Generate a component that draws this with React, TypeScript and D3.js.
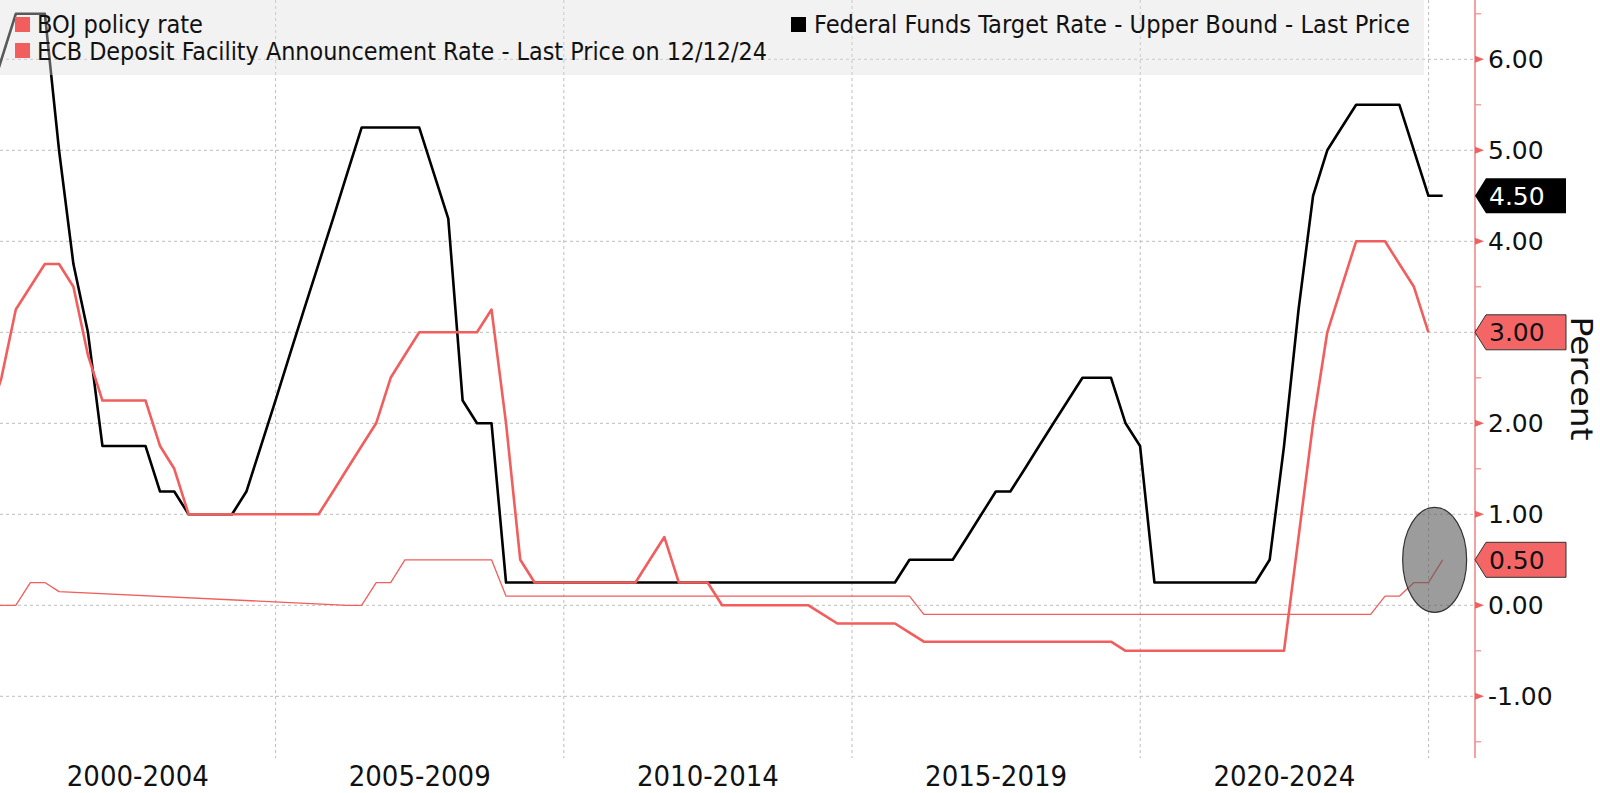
import React from 'react';
import * as d3 from 'd3';

// ---------- DATA (quarter-end observations, first = Q4 1999) ----------
const firstQuarterYear = 1999;
const firstQuarterMonth = 12; // end of December 1999

// Federal Funds Target Rate - Upper Bound
const fedUpper: number[] = [
  5.5,
  6.0, 6.5, 6.5, 6.5,       // 2000
  5.0, 3.75, 3.0, 1.75,     // 2001
  1.75, 1.75, 1.75, 1.25,   // 2002
  1.25, 1.0, 1.0, 1.0,      // 2003
  1.0, 1.25, 1.75, 2.25,    // 2004
  2.75, 3.25, 3.75, 4.25,   // 2005
  4.75, 5.25, 5.25, 5.25,   // 2006
  5.25, 5.25, 4.75, 4.25,   // 2007
  2.25, 2.0, 2.0, 0.25,     // 2008
  0.25, 0.25, 0.25, 0.25,   // 2009
  0.25, 0.25, 0.25, 0.25,   // 2010
  0.25, 0.25, 0.25, 0.25,   // 2011
  0.25, 0.25, 0.25, 0.25,   // 2012
  0.25, 0.25, 0.25, 0.25,   // 2013
  0.25, 0.25, 0.25, 0.25,   // 2014
  0.25, 0.25, 0.25, 0.5,    // 2015
  0.5, 0.5, 0.5, 0.75,      // 2016
  1.0, 1.25, 1.25, 1.5,     // 2017
  1.75, 2.0, 2.25, 2.5,     // 2018
  2.5, 2.5, 2.0, 1.75,      // 2019
  0.25, 0.25, 0.25, 0.25,   // 2020
  0.25, 0.25, 0.25, 0.25,   // 2021
  0.5, 1.75, 3.25, 4.5,     // 2022
  5.0, 5.25, 5.5, 5.5,      // 2023
  5.5, 5.5, 5.0, 4.5,       // 2024
  4.5,                      // 2025 Q1
];

// ECB Deposit Facility Announcement Rate (last price 12/12/24)
const ecbDeposit: number[] = [
  2.0,
  2.5, 3.25, 3.5, 3.75,     // 2000
  3.75, 3.5, 2.75, 2.25,    // 2001
  2.25, 2.25, 2.25, 1.75,   // 2002
  1.5, 1.0, 1.0, 1.0,       // 2003
  1.0, 1.0, 1.0, 1.0,       // 2004
  1.0, 1.0, 1.0, 1.25,      // 2005
  1.5, 1.75, 2.0, 2.5,      // 2006
  2.75, 3.0, 3.0, 3.0,      // 2007
  3.0, 3.0, 3.25, 2.0,      // 2008
  0.5, 0.25, 0.25, 0.25,    // 2009
  0.25, 0.25, 0.25, 0.25,   // 2010
  0.25, 0.5, 0.75, 0.25,    // 2011
  0.25, 0.25, 0.0, 0.0,     // 2012
  0.0, 0.0, 0.0, 0.0,       // 2013
  0.0, -0.1, -0.2, -0.2,    // 2014
  -0.2, -0.2, -0.2, -0.3,   // 2015
  -0.4, -0.4, -0.4, -0.4,   // 2016
  -0.4, -0.4, -0.4, -0.4,   // 2017
  -0.4, -0.4, -0.4, -0.4,   // 2018
  -0.4, -0.4, -0.5, -0.5,   // 2019
  -0.5, -0.5, -0.5, -0.5,   // 2020
  -0.5, -0.5, -0.5, -0.5,   // 2021
  -0.5, -0.5, 0.75, 2.0,    // 2022
  3.0, 3.5, 4.0, 4.0,       // 2023
  4.0, 3.75, 3.5, 3.0,      // 2024
];

// BOJ policy rate (no target during 2001-2006 quantitative easing)
const bojRate: (number | null)[] = [
  0.0,
  0.0, 0.0, 0.25, 0.25,     // 2000
  0.15, null, null, null,   // 2001
  null, null, null, null,   // 2002
  null, null, null, null,   // 2003
  null, null, null, null,   // 2004
  null, null, null, null,   // 2005
  0.0, 0.0, 0.25, 0.25,     // 2006
  0.5, 0.5, 0.5, 0.5,       // 2007
  0.5, 0.5, 0.5, 0.1,       // 2008
  0.1, 0.1, 0.1, 0.1,       // 2009
  0.1, 0.1, 0.1, 0.1,       // 2010
  0.1, 0.1, 0.1, 0.1,       // 2011
  0.1, 0.1, 0.1, 0.1,       // 2012
  0.1, 0.1, 0.1, 0.1,       // 2013
  0.1, 0.1, 0.1, 0.1,       // 2014
  0.1, 0.1, 0.1, 0.1,       // 2015
  -0.1, -0.1, -0.1, -0.1,   // 2016
  -0.1, -0.1, -0.1, -0.1,   // 2017
  -0.1, -0.1, -0.1, -0.1,   // 2018
  -0.1, -0.1, -0.1, -0.1,   // 2019
  -0.1, -0.1, -0.1, -0.1,   // 2020
  -0.1, -0.1, -0.1, -0.1,   // 2021
  -0.1, -0.1, -0.1, -0.1,   // 2022
  -0.1, -0.1, -0.1, -0.1,   // 2023
  0.1, 0.1, 0.25, 0.25,     // 2024
  0.5,                      // 2025 Q1
];

const yTickValues = [-1, 0, 1, 2, 3, 4, 5, 6];
const yMinorValues = [-1.5, -0.5, 0.5, 1.5, 2.5, 3.5, 4.5, 5.5, 6.5];
const periodLabels = ['2000-2004', '2005-2009', '2010-2014', '2015-2019', '2020-2024'];
const periodStarts = [2000, 2005, 2010, 2015, 2020];
const gridYears = [2005, 2010, 2015, 2020, 2025];

const legendLeft = ['BOJ policy rate', 'ECB Deposit Facility Announcement Rate - Last Price on 12/12/24'];
const legendRight = 'Federal Funds Target Rate - Upper Bound - Last Price';
const axisTitle = 'Percent';

// ---------- STYLE ----------
const RED = '#f25d5d';
const FLAG_RED = '#f46666';
const GRID = '#bdbdbd';
const AXIS_RED = '#f08a8a';
const CONDENSED = "'DejaVu Sans Condensed', 'DejaVu Sans', sans-serif";
const SANS = "'DejaVu Sans', sans-serif";

type Pt = { d: Date; v: number };

function toPoints(vals: (number | null)[]): Pt[] {
  return vals
    .map((v, i) => ({ d: new Date(firstQuarterYear, firstQuarterMonth + 3 * i, 0), v }))
    .filter((p): p is Pt => p.v !== null && p.v !== undefined);
}

const fmt2 = d3.format('.2f');
const fmt = (v: number) => fmt2(v).replace('\u2212', '-');

export default function App() {
  const W = 1600;
  const H = 793;
  const plotRight = 1475;
  const plotBottom = 758;

  const x = d3
    .scaleTime()
    .domain([new Date(2000, 0, 1), new Date(2025, 0, 1)])
    .range([-12.76, 1428.6]);
  const y = d3.scaleLinear().domain([-1, 6]).range([696.3, 59.3]);

  const line = d3
    .line<Pt>()
    .x((p) => x(p.d))
    .y((p) => y(p.v));

  const fedPts = toPoints(fedUpper);
  const ecbPts = toPoints(ecbDeposit);
  const bojPts = toPoints(bojRate);

  const flag = (val: number, fill: string, textFill: string, stroke: string | null, key: string) => {
    const yc = y(val);
    const h = 17.5;
    const d = `M${plotRight},${yc} L${plotRight + 11},${yc - h} L1566,${yc - h} L1566,${yc + h} L${plotRight + 11},${yc + h} Z`;
    return (
      <g key={key}>
        <path d={d} fill={fill} stroke={stroke || 'none'} strokeWidth={1} />
        <text x={1489} y={yc + 9} fontFamily={SANS} fontSize={25} fill={textFill}>
          {fmt(val)}
        </text>
      </g>
    );
  };

  const lastFed = fedPts[fedPts.length - 1];
  const lastEcb = ecbPts[ecbPts.length - 1];
  const lastBoj = bojPts[bojPts.length - 1];

  return (
    <svg
      width={W}
      height={H}
      viewBox={`0 0 ${W} ${H}`}
      style={{ position: 'absolute', left: 0, top: 0, display: 'block', background: '#ffffff' }}
    >
      <defs>
        <clipPath id="plotClip">
          <rect x={0} y={0} width={plotRight} height={plotBottom} />
        </clipPath>
      </defs>
      <rect x={0} y={0} width={W} height={H} fill="#ffffff" />

      {/* horizontal gridlines */}
      {yTickValues.map((t) => (
        <line
          key={'hg' + t}
          x1={0}
          x2={plotRight}
          y1={y(t)}
          y2={y(t)}
          stroke={GRID}
          strokeWidth={1}
          strokeDasharray="3 3"
        />
      ))}
      {/* vertical gridlines */}
      {gridYears.map((yr) => (
        <line
          key={'vg' + yr}
          x1={x(new Date(yr, 0, 1))}
          x2={x(new Date(yr, 0, 1))}
          y1={0}
          y2={plotBottom}
          stroke={GRID}
          strokeWidth={1}
          strokeDasharray="3 3"
        />
      ))}

      <g clipPath="url(#plotClip)">
        <path d={line(bojPts) || ''} fill="none" stroke={RED} strokeWidth={1.3} strokeLinejoin="round" />
        <path d={line(fedPts) || ''} fill="none" stroke="#000000" strokeWidth={2.6} strokeLinejoin="round" />
        <path d={line(ecbPts) || ''} fill="none" stroke={RED} strokeWidth={2.6} strokeLinejoin="round" />
      </g>

      {/* legend */}
      <rect x={0} y={0} width={1424} height={75} fill="#dedede" opacity={0.4} />
      <rect x={15} y={17} width={15} height={15} fill={RED} />
      <text x={37} y={33} fontFamily={CONDENSED} fontStretch="condensed" fontSize={24} fill="#111" textLength={166} lengthAdjust="spacingAndGlyphs">
        {legendLeft[0]}
      </text>
      <rect x={15} y={43} width={15} height={15} fill={RED} />
      <text x={37} y={60} fontFamily={CONDENSED} fontStretch="condensed" fontSize={24} fill="#111" textLength={730} lengthAdjust="spacingAndGlyphs">
        {legendLeft[1]}
      </text>
      <rect x={791} y={17} width={15} height={15} fill="#000" />
      <text x={814} y={33} fontFamily={CONDENSED} fontStretch="condensed" fontSize={24} fill="#111" textLength={596} lengthAdjust="spacingAndGlyphs">
        {legendRight}
      </text>

      {/* highlight ellipse */}
      <ellipse cx={x(lastBoj.d) - 8} cy={y(lastBoj.v)} rx={32} ry={52.5} fill="#5a5a5a" fillOpacity={0.6} stroke="#333" strokeWidth={1.2} />

      {/* right axis */}
      <line x1={plotRight} x2={plotRight} y1={0} y2={plotBottom} stroke={AXIS_RED} strokeWidth={1.6} />
      {yMinorValues.map((t) => (
        <line key={'mt' + t} x1={plotRight} x2={plotRight + 6} y1={y(t)} y2={y(t)} stroke={AXIS_RED} strokeWidth={1.2} />
      ))}
      {yTickValues.map((t) => (
        <g key={'yt' + t}>
          <path d={`M${plotRight},${y(t) - 3.5} L${plotRight + 9},${y(t)} L${plotRight},${y(t) + 3.5} Z`} fill="#f06060" />
          <text x={1488} y={y(t) + 9} fontFamily={SANS} fontSize={25} fill="#111">
            {fmt(t)}
          </text>
        </g>
      ))}

      {flag(lastFed.v, '#000000', '#ffffff', null, 'ffed')}
      {flag(lastEcb.v, FLAG_RED, '#111', '#333', 'fecb')}
      {flag(lastBoj.v, FLAG_RED, '#111', '#333', 'fboj')}

      <text
        transform="translate(1571,378.5) rotate(90)"
        textAnchor="middle"
        fontFamily={SANS}
        fontSize={30}
        fill="#111"
        textLength={124}
        lengthAdjust="spacingAndGlyphs"
      >
        {axisTitle}
      </text>

      {/* x period labels */}
      {periodLabels.map((lab, i) => {
        const a = Math.max(0, x(new Date(periodStarts[i], 0, 1)));
        const b = x(new Date(periodStarts[i] + 5, 0, 1));
        return (
          <text
            key={lab}
            x={(a + b) / 2}
            y={786}
            textAnchor="middle"
            fontFamily={CONDENSED}
            fontStretch="condensed"
            fontSize={28}
            fill="#111"
            textLength={142}
            lengthAdjust="spacingAndGlyphs"
          >
            {lab}
          </text>
        );
      })}
    </svg>
  );
}
